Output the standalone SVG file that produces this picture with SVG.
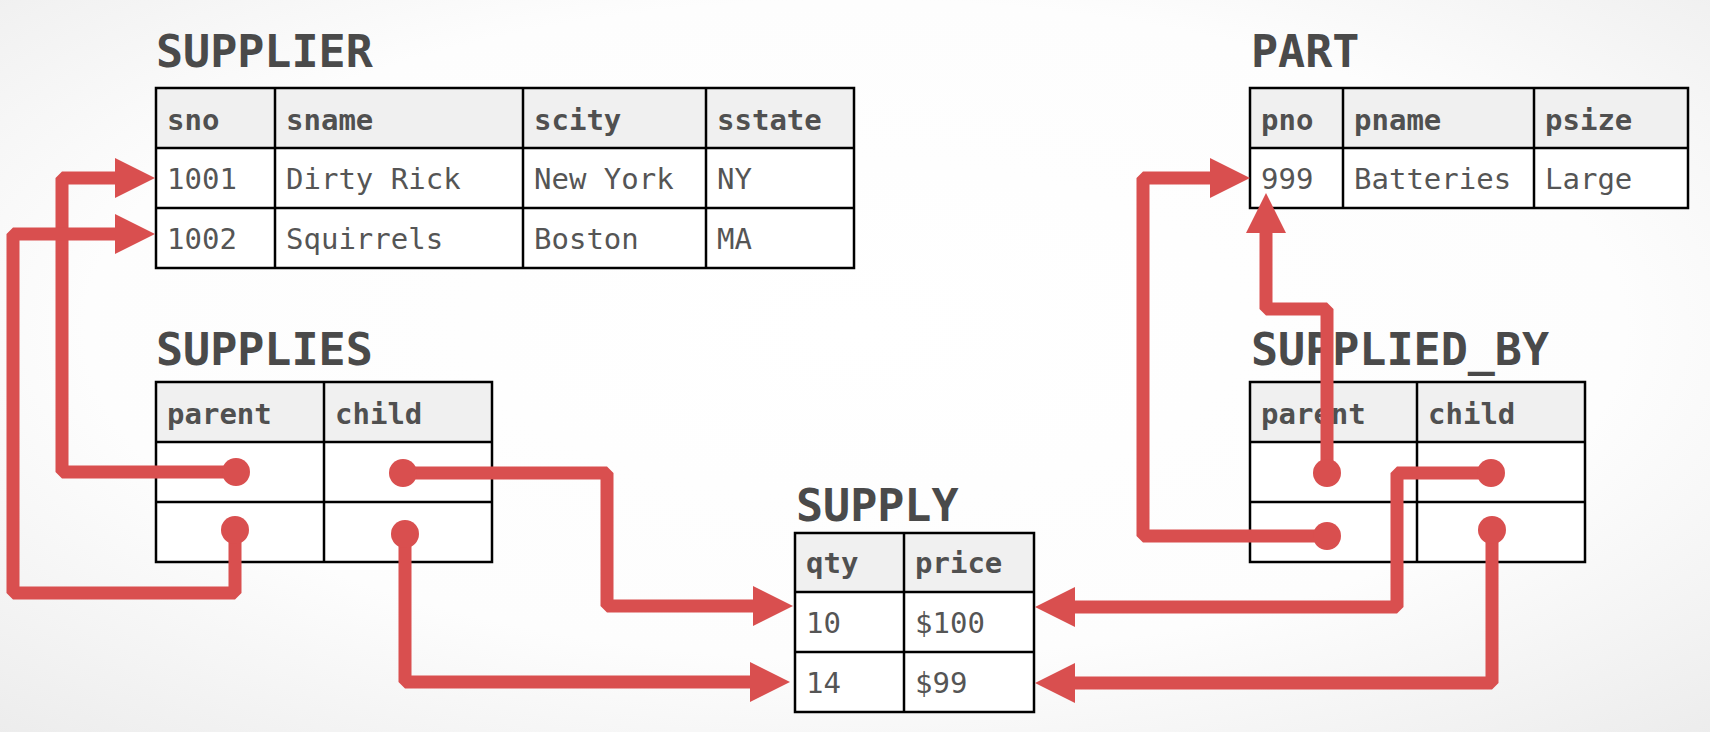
<svg xmlns="http://www.w3.org/2000/svg" width="1710" height="732" viewBox="0 0 1710 732">
<style>
.title{font-family:"DejaVu Sans Mono","Liberation Mono",monospace;font-weight:bold;font-size:45px;fill:#4a4a4a}
.hd{font-family:"DejaVu Sans Mono","Liberation Mono",monospace;font-weight:bold;font-size:29px;fill:#505050}
.cell{font-family:"DejaVu Sans Mono","Liberation Mono",monospace;font-size:29px;fill:#555555}
.hfill{fill:#f0f0f0;stroke:none}
.body{fill:#ffffff;stroke:none}
.grid{fill:none;stroke:#000;stroke-width:2.5}
.conn{fill:none;stroke:#d94f4f;stroke-width:13;stroke-linejoin:bevel;marker-start:url(#dot);marker-end:url(#arrow)}
</style>
<defs>
<radialGradient id="bg" cx="50%" cy="45%" r="75%">
<stop offset="0" stop-color="#ffffff"/>
<stop offset="0.6" stop-color="#fdfdfd"/>
<stop offset="1" stop-color="#ececec"/>
</radialGradient>
<marker id="arrow" markerUnits="userSpaceOnUse" markerWidth="42" markerHeight="42" refX="4" refY="20" orient="auto" viewBox="0 0 42 42">
<path d="M0,0 L40,20 L0,40 Z" fill="#d94f4f"/>
</marker>
<marker id="dot" markerUnits="userSpaceOnUse" markerWidth="30" markerHeight="30" refX="15" refY="15" orient="auto" viewBox="0 0 30 30">
<circle cx="15" cy="15" r="14" fill="#d94f4f"/>
</marker>
</defs>
<rect x="0" y="0" width="1710" height="732" fill="url(#bg)"/>

<g id="supplier">
<text class="title" x="156" y="67">SUPPLIER</text>
<rect class="body" x="156" y="88" width="698" height="180"/>
<rect class="hfill" x="156" y="88" width="698" height="60"/>
<rect class="grid" x="156" y="88" width="698" height="180"/>
<path class="grid" d="M156,148 H854 M156,208 H854 M275,88 V268 M523,88 V268 M706,88 V268"/>
<text class="hd" x="167" y="130">sno</text>
<text class="hd" x="286" y="130">sname</text>
<text class="hd" x="534" y="130">scity</text>
<text class="hd" x="717" y="130">sstate</text>
<text class="cell" x="167" y="189">1001</text>
<text class="cell" x="286" y="189">Dirty Rick</text>
<text class="cell" x="534" y="189">New York</text>
<text class="cell" x="717" y="189">NY</text>
<text class="cell" x="167" y="249">1002</text>
<text class="cell" x="286" y="249">Squirrels</text>
<text class="cell" x="534" y="249">Boston</text>
<text class="cell" x="717" y="249">MA</text>
</g>

<g id="part">
<text class="title" x="1251" y="67">PART</text>
<rect class="body" x="1250" y="88" width="438" height="120"/>
<rect class="hfill" x="1250" y="88" width="438" height="60"/>
<rect class="grid" x="1250" y="88" width="438" height="120"/>
<path class="grid" d="M1250,148 H1688 M1343,88 V208 M1534,88 V208"/>
<text class="hd" x="1261" y="130">pno</text>
<text class="hd" x="1354" y="130">pname</text>
<text class="hd" x="1545" y="130">psize</text>
<text class="cell" x="1261" y="189">999</text>
<text class="cell" x="1354" y="189">Batteries</text>
<text class="cell" x="1545" y="189">Large</text>
</g>

<g id="supplies">
<text class="title" x="156" y="365">SUPPLIES</text>
<rect class="body" x="156" y="382" width="336" height="180"/>
<rect class="hfill" x="156" y="382" width="336" height="60"/>
<rect class="grid" x="156" y="382" width="336" height="180"/>
<path class="grid" d="M156,442 H492 M156,502 H492 M324,382 V562"/>
<text class="hd" x="167" y="424">parent</text>
<text class="hd" x="335" y="424">child</text>
</g>

<g id="supplied_by">
<text class="title" x="1251" y="365">SUPPLIED_BY</text>
<rect class="body" x="1250" y="382" width="335" height="180"/>
<rect class="hfill" x="1250" y="382" width="335" height="60"/>
<rect class="grid" x="1250" y="382" width="335" height="180"/>
<path class="grid" d="M1250,442 H1585 M1250,502 H1585 M1417,382 V562"/>
<text class="hd" x="1261" y="424">parent</text>
<text class="hd" x="1428" y="424">child</text>
</g>

<g id="supply">
<text class="title" x="796" y="521">SUPPLY</text>
<rect class="body" x="795" y="533" width="239" height="179"/>
<rect class="hfill" x="795" y="533" width="239" height="59"/>
<rect class="grid" x="795" y="533" width="239" height="179"/>
<path class="grid" d="M795,592 H1034 M795,652 H1034 M904,533 V712"/>
<text class="hd" x="806" y="573">qty</text>
<text class="hd" x="915" y="573">price</text>
<text class="cell" x="806" y="633">10</text>
<text class="cell" x="915" y="633">$100</text>
<text class="cell" x="806" y="693">14</text>
<text class="cell" x="915" y="693">$99</text>
</g>

<g id="connectors">
<path class="conn" d="M236,472 H62 V178 H119"/>
<path class="conn" d="M235,530 V593 H13 V234 H119"/>
<path class="conn" d="M403,473 H607 V606 H757"/>
<path class="conn" d="M405,534 V682 H754"/>
<path class="conn" d="M1327,473 V309 H1266 V229"/>
<path class="conn" d="M1327,536 H1143 V178 H1214"/>
<path class="conn" d="M1491,473 H1397 V607 H1071"/>
<path class="conn" d="M1492,530 V683 H1071"/>
</g>
</svg>
